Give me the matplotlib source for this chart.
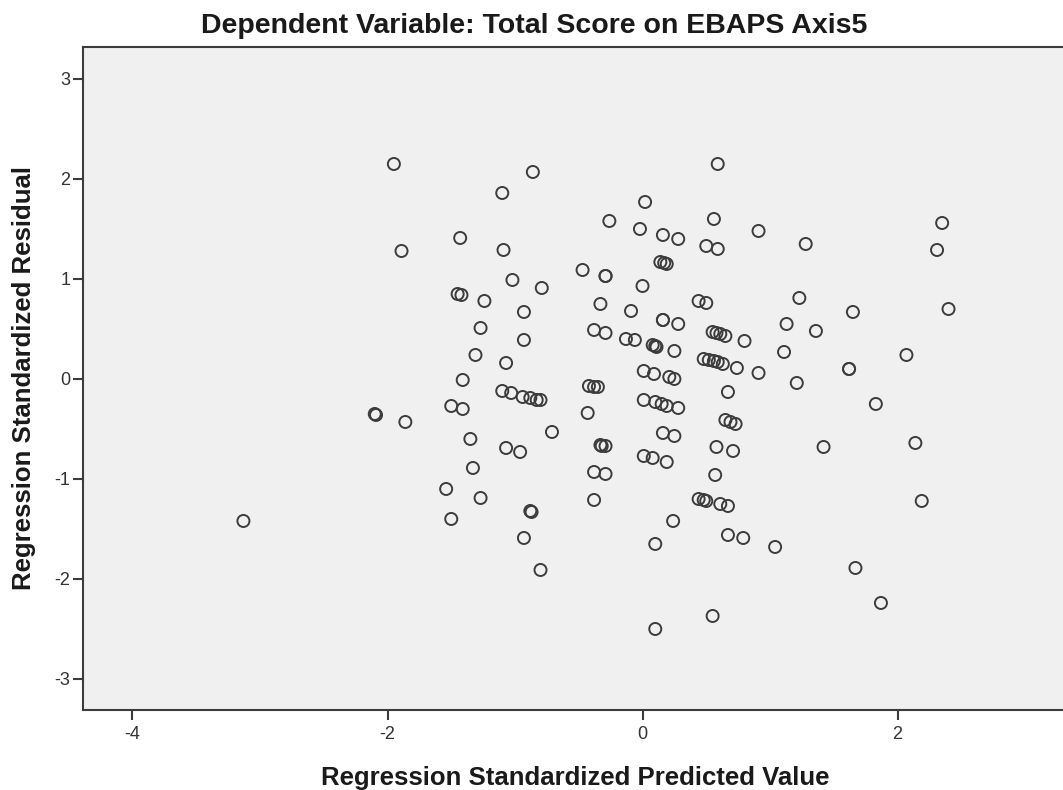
import matplotlib
matplotlib.use("Agg")
import matplotlib.pyplot as plt

plt.rcParams['font.family'] = ['Liberation Sans', 'DejaVu Sans']
plt.rcParams['axes.unicode_minus'] = False

# regression standardized predicted value (x) and residual (y)
pred = [-1.95, -0.86, -1.10, -1.43, -1.89, -1.09, -1.02, -0.79, -1.45, -1.42,
        -1.24, -0.93, -1.27, -0.93, -1.31, -1.07, -1.41, -1.10, -1.03, -0.94,
        -0.88, -0.83, -0.80, -2.10, -2.09, -1.86, -1.50, -1.41, -0.71, -1.35,
        -1.07, -0.96, -1.33, -1.54, -1.27, -0.88, -0.87, -1.50, -0.93, -0.80,
        0.59, 0.02, -0.26, 0.56, 0.91, -0.02, 0.16, 0.28, 0.50, 0.59,
        0.14, 0.17, 0.19, -0.47, -0.29, -0.29, 0.00, 0.44, 0.50, -0.33,
        -0.09, 0.16, 0.16, 0.28, -0.38, -0.29, -0.13, -0.06, 0.08, 0.10,
        0.11, 0.25, 0.55, 0.58, 0.61, 0.65, 0.80, 0.48, 0.52, 0.56,
        0.59, 0.63, 0.74, 0.91, 0.01, 0.09, 0.21, 0.25, -0.42, -0.35,
        -0.38, 0.67, -0.43, 0.01, 0.10, 0.15, 0.19, 0.28, 0.65, 0.69,
        0.73, -0.33, -0.29, -0.32, 0.16, 0.25, 0.58, 0.71, 0.01, 0.08,
        0.19, -0.38, -0.29, 0.57, -0.38, 0.44, 0.50, 0.48, 0.61, 0.67,
        0.24, 0.10, 0.67, 0.79, 0.55, 0.10, 1.28, 2.35, 2.31, 1.23,
        1.13, 1.36, 1.65, 2.40, 1.11, 2.07, 1.62, 1.62, 1.21, 1.83,
        1.42, 2.14, 2.19, 1.04, 1.67, 1.87, -3.13]
resid = [2.15, 2.07, 1.86, 1.41, 1.28, 1.29, 0.99, 0.91, 0.85, 0.84,
         0.78, 0.67, 0.51, 0.39, 0.24, 0.16, -0.01, -0.12, -0.14, -0.18,
         -0.19, -0.21, -0.21, -0.35, -0.36, -0.43, -0.27, -0.30, -0.53, -0.60,
         -0.69, -0.73, -0.89, -1.10, -1.19, -1.32, -1.33, -1.40, -1.59, -1.91,
         2.15, 1.77, 1.58, 1.60, 1.48, 1.50, 1.44, 1.40, 1.33, 1.30,
         1.17, 1.16, 1.15, 1.09, 1.03, 1.03, 0.93, 0.78, 0.76, 0.75,
         0.68, 0.59, 0.59, 0.55, 0.49, 0.46, 0.40, 0.39, 0.34, 0.33,
         0.32, 0.28, 0.47, 0.46, 0.45, 0.43, 0.38, 0.20, 0.19, 0.18,
         0.17, 0.15, 0.11, 0.06, 0.08, 0.05, 0.02, 0.00, -0.07, -0.08,
         -0.08, -0.13, -0.34, -0.21, -0.23, -0.25, -0.27, -0.29, -0.41, -0.43,
         -0.45, -0.66, -0.67, -0.67, -0.54, -0.57, -0.68, -0.72, -0.77, -0.79,
         -0.83, -0.93, -0.95, -0.96, -1.21, -1.20, -1.22, -1.21, -1.25, -1.27,
         -1.42, -1.65, -1.56, -1.59, -2.37, -2.50, 1.35, 1.56, 1.29, 0.81,
         0.55, 0.48, 0.67, 0.70, 0.27, 0.24, 0.10, 0.10, -0.04, -0.25,
         -0.68, -0.64, -1.22, -1.68, -1.89, -2.24, -1.42]

xticks = [-4, -2, 0, 2]
yticks = [-3, -2, -1, 0, 1, 2, 3]

title = "Dependent Variable: Total Score on EBAPS Axis5"
xlabel = "Regression Standardized Predicted Value"
ylabel = "Regression Standardized Residual"

fig = plt.figure(figsize=(10.63, 7.90), dpi=100, facecolor='white')
# axes run a little past the right edge, like the cropped original
ax = fig.add_axes([0.0781, 0.1013, 0.9248, 0.8396])
ax.set_facecolor('#f0f0f0')

ax.scatter(pred, resid, s=75, facecolors='none', edgecolors='#3c3c3c',
           linewidths=1.4, zorder=3)

ax.set_xlim(-4.388, 3.322)
ax.set_ylim(-3.31, 3.323)
ax.set_xticks(xticks)
ax.set_yticks(yticks)

for side in ['left', 'bottom', 'top']:
    ax.spines[side].set_color('#3c3c3c')
    ax.spines[side].set_linewidth(1.5)
ax.spines['right'].set_visible(False)

ax.tick_params(axis='both', direction='out', length=7.5, width=1.5,
               color='#3c3c3c', labelcolor='#333333', labelsize=13)
ax.tick_params(axis='y', pad=1.5)
ax.tick_params(axis='x', pad=4)

fig.text(0.5028, 0.9578, title, ha='center', va='baseline',
         fontsize=20.5, fontweight='bold', color='#1a1a1a')
fig.text(0.5409, 0.0063, xlabel, ha='center', va='baseline',
         fontsize=18.5, fontweight='bold', color='#1a1a1a')
fig.text(0.0113, 0.5215, ylabel, ha='left', va='center', rotation=90,
         fontsize=18.5, fontweight='bold', color='#1a1a1a')

fig.savefig('out.png', dpi=100, facecolor='white')
